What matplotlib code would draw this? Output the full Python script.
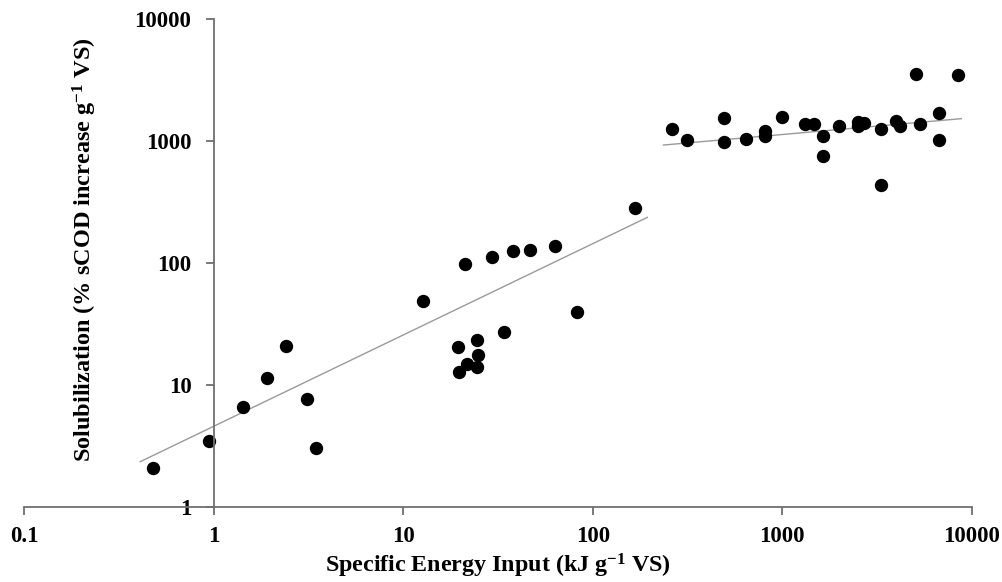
import numpy as np
import matplotlib.pyplot as plt
from matplotlib.ticker import FixedLocator, FixedFormatter, NullLocator

plt.rcParams['font.family'] = ['Liberation Serif', 'DejaVu Serif']
plt.rcParams['font.weight'] = 'bold'
plt.rcParams['mathtext.fontset'] = 'custom'
plt.rcParams['mathtext.rm'] = 'Liberation Serif:bold'
plt.rcParams['mathtext.default'] = 'rm'

# data (kJ/g VS, % sCOD increase /g VS)
energy = [0.48, 0.95, 1.43, 1.91, 2.41, 3.11, 3.47, 12.7, 21.2, 29.5, 37.9, 46.5,
          63, 167, 83, 33.9, 24.6, 19.5, 24.9, 21.8, 24.4, 19.7,
          262, 316, 492, 492, 645, 813, 813, 991, 1312, 1472, 1645, 1645,
          1987, 2493, 2685, 2493, 3334, 3334, 4001, 4170, 5058, 5333,
          6700, 6700, 8470]
solub = [2.09, 3.47, 6.6, 11.4, 20.9, 7.7, 3.05, 48.8, 99, 112.7, 125, 128.5,
         138, 284, 39.7, 27.3, 23.4, 20.6, 17.5, 14.8, 14.1, 12.7,
         1254, 1019, 1559, 977, 1035, 1214, 1097, 1570, 1389, 1389, 1097, 762,
         1320, 1445, 1400, 1320, 1254, 433, 1465, 1320, 3580, 1389,
         1715, 1019, 3493]

# trend line end points
trend1_x = [0.41, 194]
trend1_y = [2.35, 237]
trend2_x = [236, 8790]
trend2_y = [929, 1529]

xticks = [0.1, 1, 10, 100, 1000, 10000]
xlabels = ['0.1', '1', '10', '100', '1000', '10000']
yticks = [1, 10, 100, 1000, 10000]
ylabels = ['1', '10', '100', '1000', '10000']

fig = plt.figure(figsize=(10.03, 5.82), dpi=100)
ax = fig.add_axes([0.024, 0.129, 0.945, 0.838])

ax.plot(trend1_x, trend1_y, color='#9a9a9a', lw=1.0)
ax.plot(trend2_x, trend2_y, color='#9a9a9a', lw=1.0)
ax.plot(energy, solub, 'o', color='black', ms=8.6, mec='black')

ax.set_xscale('log')
ax.set_yscale('log')
ax.set_xlim(0.1, 10000)
ax.set_ylim(1, 10000)

ax.spines['top'].set_visible(False)
ax.spines['right'].set_visible(False)
ax.spines['left'].set_position(('data', 1))
for s in ('left', 'bottom'):
    ax.spines[s].set_color('#707070')
    ax.spines[s].set_linewidth(1.3)

ax.xaxis.set_major_locator(FixedLocator(xticks))
ax.xaxis.set_major_formatter(FixedFormatter(xlabels))
ax.yaxis.set_major_locator(FixedLocator(yticks))
ax.yaxis.set_major_formatter(FixedFormatter(ylabels))
ax.xaxis.set_minor_locator(NullLocator())
ax.yaxis.set_minor_locator(NullLocator())
ax.tick_params(axis='both', which='major', direction='out', length=6,
               width=1.3, color='#707070', labelsize=16.5, pad=10)
ax.tick_params(axis='x', pad=8)

ax.set_xlabel('Specific Energy Input (kJ g$^{-1}$ VS)', fontsize=17.3, fontweight='bold')
ax.set_ylabel('Solubilization (% sCOD increase g$^{-1}$ VS)', fontsize=17.5, fontweight='bold')
ax.xaxis.set_label_coords(0.5, -0.093)
ax.yaxis.set_label_coords(0.079, 0.527)

fig.savefig('out.png', dpi=100)
